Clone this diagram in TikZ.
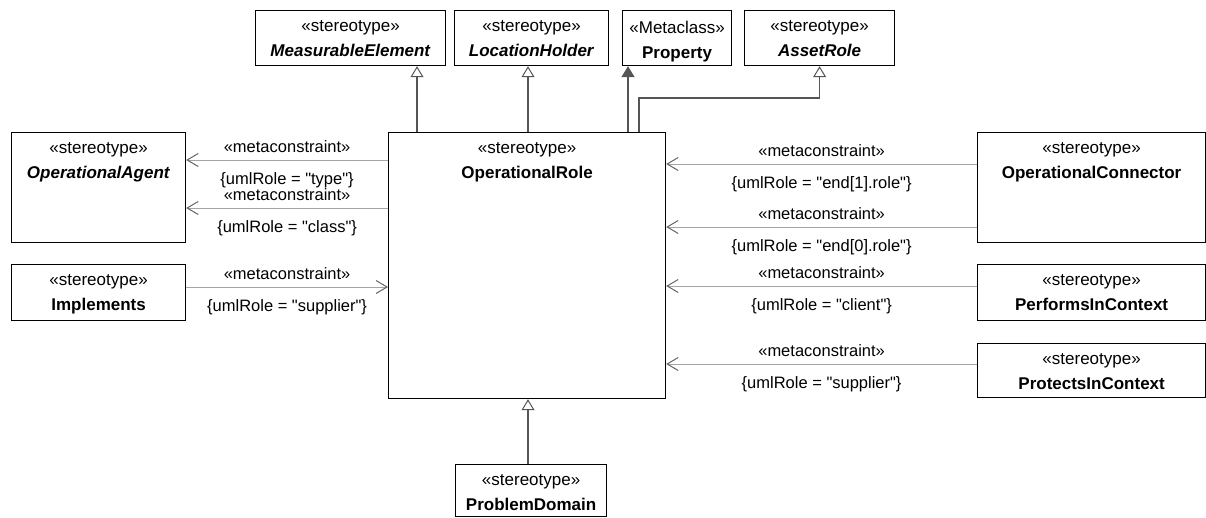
\documentclass[tikz,border=0pt]{standalone}
\usepackage{fontspec}
\setmainfont{Liberation Sans}[Ligatures=TeXOff]
\usetikzlibrary{arrows.meta,positioning}
\definecolor{genline}{RGB}{85,85,85}
\definecolor{metaline}{RGB}{165,165,165}
\definecolor{metatip}{RGB}{100,100,100}
\tikzset{
    umlbox/.style={
        draw, line width=1.2pt, anchor=north west, inner sep=0pt
    },
    boxtext/.style={
        anchor=north, align=center, inner sep=0pt, yshift=-10.5pt,
        font=\fontsize{17}{25}\selectfont
    },
    % generalisation, hollow triangle
    genarrow/.style={
        line width=1.5pt,
        genline,
        -{Triangle[length=11pt, width=13pt, fill=white, line width=1pt]}
    },
    % metaclass extension, filled triangle
    extarrow/.style={
        line width=1.5pt,
        genline,
        -{Triangle[length=11pt, width=13pt]}
    },
    metaarrow/.style={
        line width=1pt,
        metaline,
        -{Straight Barb[length=11pt, width=13pt, line width=1pt, color=metatip]}
    },
    lblabove/.style={above=7pt, inner sep=0pt, black, font=\fontsize{16.5}{19}\selectfont},
    lblbelow/.style={below=12pt, inner sep=0pt, black, font=\fontsize{16.5}{19}\selectfont}
}
\newcommand{\stereo}[1]{«#1»}

\begin{document}
\begin{tikzpicture}[x=1pt, y=1pt]
    \useasboundingbox (0,0) rectangle (1206,-517);

    % top row
    \node[umlbox, minimum width=190, minimum height=55] (measel) at (255,-10) {};
    \node[umlbox, minimum width=154, minimum height=55] (loch) at (454,-10) {};
    \node[umlbox, minimum width=109, minimum height=55] (prop) at (622,-10) {};
    \node[umlbox, minimum width=150, minimum height=55] (asset) at (744,-10) {};
    \node[boxtext] at (measel.north) {\stereo{stereotype}\\\textbf{\textit{MeasurableElement}}};
    \node[boxtext] at (loch.north) {\stereo{stereotype}\\\textbf{\textit{LocationHolder}}};
    \node[boxtext] at (prop.north) {\stereo{Metaclass}\\\textbf{Property}};
    \node[boxtext] at (asset.north) {\stereo{stereotype}\\\textbf{\textit{AssetRole}}};

    % centre
    \node[umlbox, minimum width=277, minimum height=266] (opr) at (388,-132) {};
    \node[boxtext] at (opr.north) {\stereo{stereotype}\\\textbf{OperationalRole}};

    % left
    \node[umlbox, minimum width=174, minimum height=110] (agent) at (11,-132) {};
    \node[umlbox, minimum width=174, minimum height=56] (impl) at (11,-264) {};
    \node[boxtext] at (agent.north) {\stereo{stereotype}\\\textbf{\textit{OperationalAgent}}};
    \node[boxtext] at (impl.north) {\stereo{stereotype}\\\textbf{Implements}};

    % right
    \node[umlbox, minimum width=228, minimum height=110] (conn) at (977,-132) {};
    \node[umlbox, minimum width=228, minimum height=56] (perf) at (977,-264) {};
    \node[umlbox, minimum width=228, minimum height=54] (prot) at (977,-343) {};
    \node[boxtext] at (conn.north) {\stereo{stereotype}\\\textbf{OperationalConnector}};
    \node[boxtext] at (perf.north) {\stereo{stereotype}\\\textbf{PerformsInContext}};
    \node[boxtext] at (prot.north) {\stereo{stereotype}\\\textbf{ProtectsInContext}};

    % bottom
    \node[umlbox, minimum width=151, minimum height=52] (probd) at (455,-464) {};
    \node[boxtext] at (probd.north) {\stereo{stereotype}\\\textbf{ProblemDomain}};

    % generalisations
    \draw[genarrow] ([xshift=29]opr.north west) -- ([xshift=29]opr.north west |- measel.south);
    \draw[genarrow] ([xshift=140]opr.north west) -- ([xshift=140]opr.north west |- loch.south);
    \draw[extarrow] ([xshift=240]opr.north west) -- ([xshift=240]opr.north west |- prop.south);
    \draw[genarrow] ([xshift=251]opr.north west) -- ++(0,34) -| (asset.south);
    \draw[genarrow] ([xshift=140]opr.south west |- probd.north) -- ([xshift=140]opr.south west);

    % metaconstraints, left
    \draw[metaarrow] ([yshift=-28]opr.north west) -- node[lblabove]{\stereo{metaconstraint}} node[lblbelow]{\{umlRole = "type"\}} ([yshift=-28]opr.north west -| agent.east);
    \draw[metaarrow] ([yshift=-76]opr.north west) -- node[lblabove]{\stereo{metaconstraint}} node[lblbelow]{\{umlRole = "class"\}} ([yshift=-76]opr.north west -| agent.east);
    \draw[metaarrow] ([yshift=-155]opr.north west -| impl.east) -- node[lblabove]{\stereo{metaconstraint}} node[lblbelow]{\{umlRole = "supplier"\}} ([yshift=-155]opr.north west);

    % metaconstraints, right
    \draw[metaarrow] ([yshift=-32]opr.north east -| conn.west) -- node[lblabove]{\stereo{metaconstraint}} node[lblbelow]{\{umlRole = "end[1].role"\}} ([yshift=-32]opr.north east);
    \draw[metaarrow] ([yshift=-95]opr.north east -| conn.west) -- node[lblabove]{\stereo{metaconstraint}} node[lblbelow]{\{umlRole = "end[0].role"\}} ([yshift=-95]opr.north east);
    \draw[metaarrow] ([yshift=-154]opr.north east -| perf.west) -- node[lblabove]{\stereo{metaconstraint}} node[lblbelow]{\{umlRole = "client"\}} ([yshift=-154]opr.north east);
    \draw[metaarrow] ([yshift=-232]opr.north east -| prot.west) -- node[lblabove]{\stereo{metaconstraint}} node[lblbelow]{\{umlRole = "supplier"\}} ([yshift=-232]opr.north east);
\end{tikzpicture}
\end{document}
